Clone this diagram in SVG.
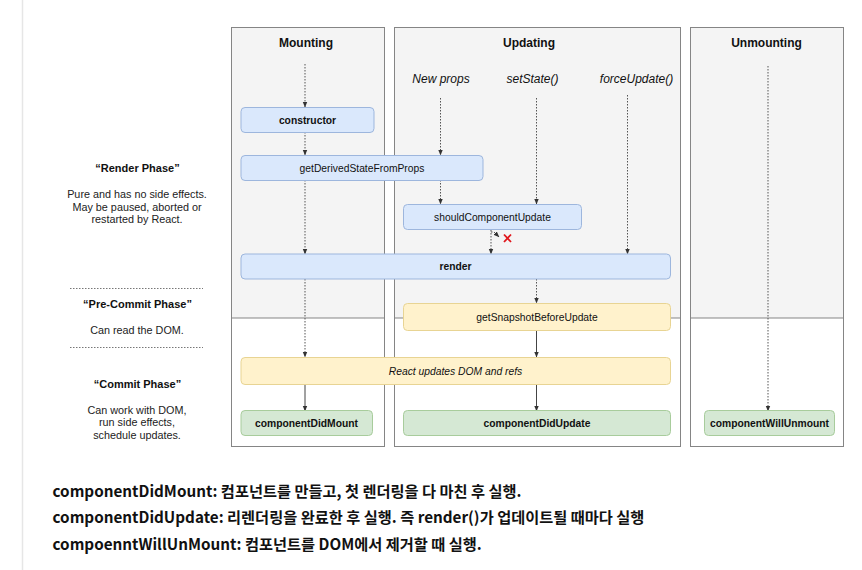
<svg xmlns="http://www.w3.org/2000/svg" width="862" height="570" viewBox="0 0 862 570">
<defs>
<style>
.panelTop{fill:#f4f4f4;stroke:none}
.panelBot{fill:#ffffff;stroke:none}
.panelBorder{fill:none;stroke:#858585;stroke-width:1}
.title{font-family:"Liberation Sans",Arial,sans-serif;font-size:12px;font-weight:bold;fill:#111;text-anchor:middle}
.trig{font-family:"Liberation Sans",Arial,sans-serif;font-size:12px;font-style:italic;fill:#111;text-anchor:middle}
.blue{fill:#dae8fc;stroke:#9db6dd;stroke-width:1}
.yellow{fill:#fff2cc;stroke:#e8d493;stroke-width:1}
.green{fill:#d5e8d4;stroke:#a8cc9c;stroke-width:1}
.nt{font-family:"Liberation Sans",Arial,sans-serif;font-size:10.3px;fill:#111;text-anchor:middle}
.b{font-weight:bold}
.i{font-style:italic}
.ph{font-family:"Liberation Sans",Arial,sans-serif;font-size:11px;font-weight:bold;fill:#111;text-anchor:middle}
.pd{font-family:"Liberation Sans",Arial,sans-serif;font-size:10.8px;fill:#222;text-anchor:middle}
.dot{fill:none;stroke:#555;stroke-width:1;stroke-dasharray:1.5 1.5}
.sol{fill:none;stroke:#444;stroke-width:1}
.sep{fill:none;stroke:#777;stroke-width:1;stroke-dasharray:1.5 1.5}
.kr{font-family:"Noto Sans CJK KR","Noto Sans",sans-serif;font-size:15.25px;font-weight:bold;fill:#111}
</style>
<marker id="ah" viewBox="0 0 6 6" refX="5.5" refY="3" markerWidth="6" markerHeight="6" markerUnits="userSpaceOnUse" orient="auto">
<path d="M0,0.6 L6,3 L0,5.4 Z" fill="#333"/>
</marker>
</defs>

<rect width="862" height="570" fill="#ffffff"/>
<line x1="22.5" y1="0" x2="22.5" y2="570" stroke="#e6e6e6" stroke-width="1.5"/>

<g id="panel-mounting">
<rect class="panelTop" x="231" y="27" width="153" height="291"/>
<rect class="panelBot" x="231" y="318" width="153" height="129"/>
<rect class="panelBorder" x="231.5" y="27.5" width="153" height="419"/>
<line x1="231.5" y1="318" x2="384.5" y2="318" stroke="#858585"/>
<text class="title" x="306" y="46.5">Mounting</text>
</g>
<g id="panel-updating">
<rect class="panelTop" x="394" y="27" width="286" height="291"/>
<rect class="panelBot" x="394" y="318" width="286" height="129"/>
<rect class="panelBorder" x="394.5" y="27.5" width="286" height="419"/>
<line x1="394.5" y1="318" x2="680.5" y2="318" stroke="#858585"/>
<text class="title" x="529" y="46.5">Updating</text>
<text class="trig" x="441" y="83">New props</text>
<text class="trig" x="532.5" y="83">setState()</text>
<text class="trig" x="636.5" y="83">forceUpdate()</text>
</g>
<g id="panel-unmounting">
<rect class="panelTop" x="690" y="27" width="153" height="291"/>
<rect class="panelBot" x="690" y="318" width="153" height="129"/>
<rect class="panelBorder" x="690.5" y="27.5" width="153" height="419"/>
<line x1="690.5" y1="318" x2="843.5" y2="318" stroke="#858585"/>
<text class="title" x="766.5" y="46.5">Unmounting</text>
</g>

<g id="phases">
<text class="ph" x="137.5" y="172">“Render Phase”</text>
<text class="pd" x="137" y="198">Pure and has no side effects.</text>
<text class="pd" x="137" y="210.5">May be paused, aborted or</text>
<text class="pd" x="137" y="223">restarted by React.</text>
<line class="sep" x1="70" y1="288.5" x2="203" y2="288.5"/>
<text class="ph" x="137.5" y="308">“Pre-Commit Phase”</text>
<text class="pd" x="137" y="333.5">Can read the DOM.</text>
<line class="sep" x1="70" y1="347.5" x2="203" y2="347.5"/>
<text class="ph" x="137.5" y="388">“Commit Phase”</text>
<text class="pd" x="137" y="413.5">Can work with DOM,</text>
<text class="pd" x="137" y="426">run side effects,</text>
<text class="pd" x="137" y="438.5">schedule updates.</text>
</g>

<g id="connectors">
<line class="dot" x1="305" y1="64" x2="305" y2="107" marker-end="url(#ah)"/>
<line class="dot" x1="305" y1="132" x2="305" y2="155" marker-end="url(#ah)"/>
<line class="dot" x1="305" y1="180" x2="305" y2="254" marker-end="url(#ah)"/>
<line class="dot" x1="305" y1="279" x2="305" y2="357" marker-end="url(#ah)"/>
<line class="sol" x1="305" y1="385" x2="305" y2="411" marker-end="url(#ah)"/>
<line class="dot" x1="440.5" y1="98" x2="440.5" y2="155" marker-end="url(#ah)"/>
<line class="dot" x1="440.5" y1="180" x2="440.5" y2="204" marker-end="url(#ah)"/>
<line class="dot" x1="536.5" y1="98" x2="536.5" y2="204" marker-end="url(#ah)"/>
<line class="dot" x1="627.5" y1="95" x2="627.5" y2="254" marker-end="url(#ah)"/>
<line class="dot" x1="491" y1="230" x2="491" y2="254" marker-end="url(#ah)"/>
<polyline class="dot" points="491,232 494,232 499,237" marker-end="url(#ah)"/>
<line class="dot" x1="536.5" y1="279" x2="536.5" y2="303" marker-end="url(#ah)"/>
<line class="sol" x1="536.5" y1="331" x2="536.5" y2="357" marker-end="url(#ah)"/>
<line class="sol" x1="536.5" y1="385" x2="536.5" y2="411" marker-end="url(#ah)"/>
<line class="dot" x1="768" y1="66" x2="768" y2="411" marker-end="url(#ah)"/>
<path d="M504,234.5 L511,242 M511,234.5 L504,242" stroke="#e0161b" stroke-width="1.8" fill="none"/>
</g>

<g id="node-constructor">
<rect class="blue" x="241" y="107.5" width="133" height="25" rx="4"/>
<text class="nt b" x="307.5" y="123.5">constructor</text>
</g>
<g id="node-getDerivedStateFromProps">
<rect class="blue" x="241" y="155.5" width="242" height="25" rx="4"/>
<text class="nt" x="362" y="171.5">getDerivedStateFromProps</text>
</g>
<g id="node-shouldComponentUpdate">
<rect class="blue" x="403.5" y="204.5" width="178" height="25" rx="4"/>
<text class="nt" x="492.5" y="220.5">shouldComponentUpdate</text>
</g>
<g id="node-render">
<rect class="blue" x="241" y="254" width="429.5" height="25" rx="4"/>
<text class="nt b" x="455.5" y="270">render</text>
</g>
<g id="node-getSnapshotBeforeUpdate">
<rect class="yellow" x="403.5" y="303.5" width="267" height="27" rx="4"/>
<text class="nt" x="537" y="320.5">getSnapshotBeforeUpdate</text>
</g>
<g id="node-react-updates">
<rect class="yellow" x="241" y="357.5" width="429.5" height="27" rx="4"/>
<text class="nt i" x="455.5" y="374.5">React updates DOM and refs</text>
</g>
<g id="node-componentDidMount">
<rect class="green" x="241" y="410.5" width="131.5" height="25" rx="4"/>
<text class="nt b" x="306.5" y="426.5">componentDidMount</text>
</g>
<g id="node-componentDidUpdate">
<rect class="green" x="403.5" y="410.5" width="267" height="25" rx="4"/>
<text class="nt b" x="537" y="426.5">componentDidUpdate</text>
</g>
<g id="node-componentWillUnmount">
<rect class="green" x="704.5" y="410.5" width="130" height="25" rx="4"/>
<text class="nt b" x="769.5" y="426.5">componentWillUnmount</text>
</g>

<g id="notes">
<text class="kr" x="52.5" y="496.5">componentDidMount: 컴포넌트를 만들고, 첫 렌더링을 다 마친 후 실행.</text>
<text class="kr" x="52.5" y="523">componentDidUpdate: 리렌더링을 완료한 후 실행. 즉 render()가 업데이트될 때마다 실행</text>
<text class="kr" x="52.5" y="550">compoenntWillUnMount: 컴포넌트를 DOM에서 제거할 때 실행.</text>
</g>
</svg>
